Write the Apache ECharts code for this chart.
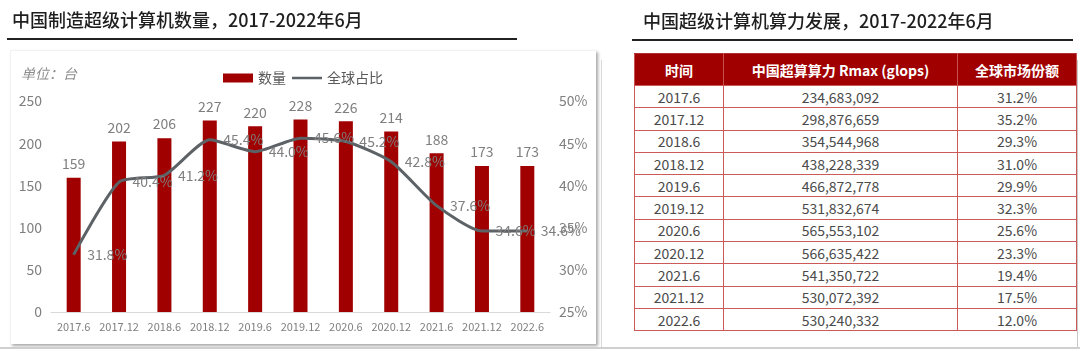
<!DOCTYPE html>
<html>
<head>
<meta charset="utf-8">
<script src="https://cdn.jsdelivr.net/npm/echarts@6/dist/echarts.min.js"></script>
<style>
  html, body { margin: 0; padding: 0; background: #ffffff; width: 1080px; height: 351px; overflow: hidden; }
  #panel { position: absolute; left: 10px; top: 50px; width: 585px; height: 293px; background: #fff;
           border-top: 1px solid #f2f2f2; border-left: 1px solid #f2f2f2;
           box-shadow: 2px 2px 3px rgba(0,0,0,0.35); }
  #frameR { position: absolute; left: 601px; top: 60px; width: 475px; height: 287px;
            border-left: 1px solid #d8d8d8; border-right: 1px solid #c8c8c8; border-bottom: 1px solid #c8c8c8; }
  #bottomLine { position: absolute; left: 0; top: 347px; width: 1080px; height: 2px; background: #cfcfcf; }
  #chart { position: absolute; left: 0; top: 0; width: 1080px; height: 351px; }
  #tbl { position: absolute; left: 634px; top: 53px; border-collapse: collapse; width: 439px;
         font-family: "Noto Sans CJK SC", "Noto Sans", sans-serif; table-layout: fixed; background: #fff; }
  #tbl th { background: #a00000; color: #fff; font-weight: bold; font-size: 14px; height: 31px; padding: 0;
            border-left: 1px solid #c85050; border-right: 1px solid #c85050; border-top: 1px solid #b03030; }
  #tbl td { font-size: 14px; color: #4a4a4a; text-align: center; height: 21.3px; padding: 0; line-height: 20px;
            border: 1px solid #cc5a5a; }
</style>
</head>
<body>
<div id="panel"></div>
<div id="frameR"></div>
<div id="bottomLine"></div>
<div id="chart"></div>
<table id="tbl"><thead></thead><tbody></tbody></table>
<script>
// ---- Chart data ----
const categories = ['2017.6','2017.12','2018.6','2018.12','2019.6','2019.12','2020.6','2020.12','2021.6','2021.12','2022.6'];
const counts = [159, 202, 206, 227, 220, 228, 226, 214, 188, 173, 173];
const shares = [31.8, 40.4, 41.2, 45.4, 44.0, 45.6, 45.2, 42.8, 37.6, 34.6, 34.6];
const seriesNames = ['数量', '全球占比'];

// ---- Table data ----
const tableHeader = ['时间', '中国超算算力 Rmax (glops)', '全球市场份额'];
const tableTimes = ['2017.6','2017.12','2018.6','2018.12','2019.6','2019.12','2020.6','2020.12','2021.6','2021.12','2022.6'];
const tableRmax = ['234,683,092','298,876,659','354,544,968','438,228,339','466,872,778','531,832,674','565,553,102','566,635,422','541,350,722','530,072,392','530,240,332'];
const tableShare = ['31.2%','35.2%','29.3%','31.0%','29.9%','32.3%','25.6%','23.3%','19.4%','17.5%','12.0%'];

const leftTitle = '中国制造超级计算机数量，2017-2022年6月';
const rightTitle = '中国超级计算机算力发展，2017-2022年6月';
const unitText = '单位：台';

// build table
const thead = document.querySelector('#tbl thead');
const colW = [88, 233, 118];
let hr = '<tr>';
tableHeader.forEach((h, i) => { hr += '<th style="width:' + colW[i] + 'px">' + h + '</th>'; });
hr += '</tr>';
thead.innerHTML = hr;
const tbody = document.querySelector('#tbl tbody');
let rows = '';
for (let i = 0; i < tableTimes.length; i++) {
  rows += '<tr><td>' + tableTimes[i] + '</td><td>' + tableRmax[i] + '</td><td>' + tableShare[i] + '</td></tr>';
}
tbody.innerHTML = rows;

const CJK = '"Noto Sans CJK SC", "Noto Sans", sans-serif';
const gray = '#7f7f7f';
const lineColor = '#5d6266';
// legend icon: thin horizontal stroke inside a 30x9 box (corner dots fix the bounding box)
const lineIcon = 'path://M0,0L0.01,0L0,0.01Z M0,3.2L30,3.2L30,5.8L0,5.8Z M30,9L29.99,9L30,8.99Z';
const chart = echarts.init(document.getElementById('chart'), null, { renderer: 'canvas' });
chart.setOption({
  backgroundColor: 'transparent',
  animation: false,
  textStyle: { fontFamily: CJK },
  title: [
    { text: leftTitle, left: 7, top: 6, textStyle: { fontSize: 18, fontWeight: 500, color: '#1e1e1e', fontFamily: CJK } },
    { text: rightTitle, left: 638, top: 7, textStyle: { fontSize: 18, fontWeight: 500, color: '#1e1e1e', fontFamily: CJK } },
    { text: unitText, left: 16, top: 62, textStyle: { fontSize: 14, fontWeight: 'normal', fontStyle: 'italic', color: '#8c8c8c', fontFamily: CJK } }
  ],
  graphic: [
    { type: 'line', shape: { x1: 7, y1: 39, x2: 517, y2: 39 }, style: { stroke: '#222', lineWidth: 2 } },
    { type: 'line', shape: { x1: 632, y1: 40, x2: 1073, y2: 40 }, style: { stroke: '#222', lineWidth: 2 } }
  ],
  legend: {
    left: 218, top: 66, itemGap: 6, itemWidth: 30, itemHeight: 9,
    textStyle: { fontSize: 14, color: '#595959', fontFamily: CJK },
    data: [{ name: seriesNames[0], icon: 'rect' }, { name: seriesNames[1], icon: lineIcon, itemStyle: { color: lineColor } }]
  },
  grid: { left: 51, right: 530, top: 101, bottom: 39, containLabel: false },
  xAxis: {
    type: 'category', data: categories,
    axisLine: { lineStyle: { color: '#d9d9d9', width: 1 } },
    axisTick: { show: false },
    axisLabel: { color: gray, fontSize: 11, margin: 9, interval: 0, fontFamily: CJK }
  },
  yAxis: [
    { type: 'value', min: 0, max: 250, interval: 50, axisLine: { show: false }, axisTick: { show: false },
      splitLine: { show: false }, axisLabel: { color: gray, fontSize: 14, margin: 9, fontFamily: CJK } },
    { type: 'value', min: 25, max: 50, interval: 5, axisLine: { show: false }, axisTick: { show: false },
      splitLine: { show: false }, axisLabel: { color: gray, fontSize: 14, margin: 9, formatter: '{value}%', fontFamily: CJK } }
  ],
  series: [
    { name: seriesNames[0], type: 'bar', data: counts, barWidth: 14, itemStyle: { color: '#a00000' },
      label: { show: true, position: 'top', distance: 7, color: gray, fontSize: 14, fontFamily: CJK } },
    { name: seriesNames[1], type: 'line', yAxisIndex: 1, data: shares, smooth: 0.2,
      symbol: 'circle', symbolSize: 1, showSymbol: true,
      lineStyle: { color: lineColor, width: 3 }, itemStyle: { color: lineColor },
      label: { show: true, position: 'right', distance: 13, color: gray, fontSize: 14, fontFamily: CJK,
               formatter: p => p.value.toFixed(1) + '%' },
      labelLayout: { hideOverlap: false } }
  ]
});
</script>
</body>
</html>
